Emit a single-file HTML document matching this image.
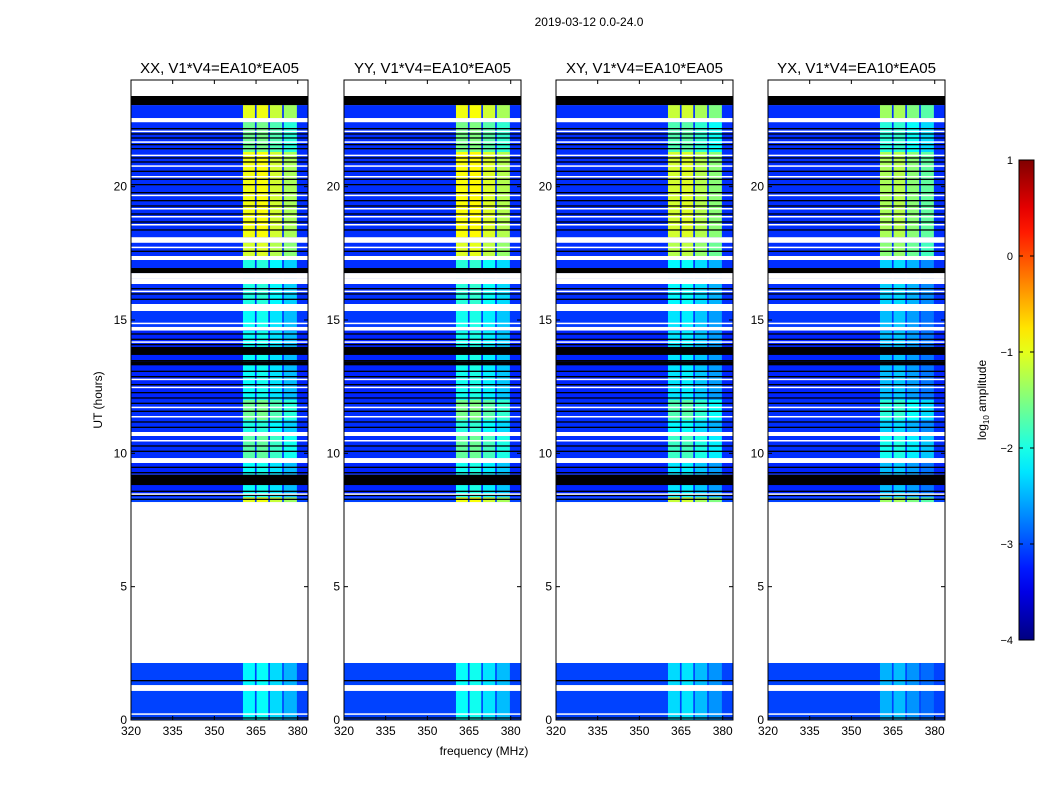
<!DOCTYPE html>
<html><head><meta charset="utf-8"><style>
body{margin:0;background:#fff;width:1050px;height:800px;overflow:hidden;font-family:"Liberation Sans",sans-serif}
svg text{font-family:"Liberation Sans",sans-serif}
</style></head><body>
<svg id="fig" width="1050" height="800" xmlns="http://www.w3.org/2000/svg">
<text x="589" y="26" font-size="12" text-anchor="middle">2019-03-12 0.0-24.0</text>
<text x="484" y="755" font-size="12" text-anchor="middle">frequency (MHz)</text>
<text transform="translate(102,400) rotate(-90)" font-size="12" text-anchor="middle">UT (hours)</text>
<g id="panels"></g>
<g id="cbar"></g>
</svg>
<script>
// ---- data ----
const panelTitles = ["XX, V1*V4=EA10*EA05","YY, V1*V4=EA10*EA05","XY, V1*V4=EA10*EA05","YX, V1*V4=EA10*EA05"];
const panelLeft = [131,344,556,768];
const panelGain = [0.0, 0.05, -0.15, -0.35];
const xTicks = [320,335,350,365,380];
const yTicks = [0,5,10,15,20];
const cbarTicks = [-4,-3,-2,-1,0,1];
// data bands: [t0, t1, highBandLog, lowBandLog]
const dataBands = [
 [22.57,23.06,-1.0,-3.15],[21.3,22.42,-1.6,-3.15],[18.1,21.3,-0.95,-3.15],
 [17.4,17.9,-1.1,-3.15],[16.76,17.25,-2.0,-3.15],[15.6,16.54,-2.0,-3.15],
 [14.62,15.34,-2.1,-3.1],[12.0,14.6,-2.1,-3.2],[11.25,12.0,-1.6,-3.15],
 [10.8,11.25,-2.0,-3.15],[9.82,10.65,-1.7,-3.15],[8.35,9.64,-2.1,-3.2],
 [8.17,8.35,-1.0,-3.05],[0,2.14,-2.15,-3.05]
];
const subBands = [[360.3,364.6],[365.2,369.4],[370,374.4],[375,379.7]];
const subOffset = [0.0, 0.05, -0.15, -0.35];
const blackBands = [[23.06,23.4],[16.76,16.95],[13.69,13.99],[8.81,9.0],[8.9,9.2],[13.3,13.45]];
const whiteBands = [[23.4,24],[22.42,22.57],[17.9,18.1],[17.25,17.4],[16.35,16.54],[15.34,15.56],[14.62,14.74],[10.65,10.8],[9.64,9.82],[2.14,8.17],[1.09,1.31]];
const blackLines = [22.2,22.0,21.85,21.6,21.45,21.1,20.95,20.6,20.3,20.1,19.8,19.5,19.3,19.0,18.7,18.4,17.6,16.2,16.0,15.8,14.5,14.3,14.1,13.5,13.1,12.9,12.6,12.3,12.1,11.9,11.6,11.2,11.0,10.3,10.1,9.5,9.3,8.6,8.45,8.3,1.5,0.1];
const whiteLines = [22.1,21.7,21.2,20.8,20.4,19.7,19.2,18.9,18.6,17.75,16.1,14.9,14.2,13.8,13.4,12.8,12.5,11.75,11.4,10.5,9.2,8.9,8.5,0.25];

// ---- scales ----
const plotTop=80,plotBot=720,W=177;
const yS=t=>plotBot-(t/24)*(plotBot-plotTop);
const xS=(f,x0)=>x0+(f-320)*(W/63.7);
function jet(v){v=Math.max(0,Math.min(1,v));
 const c=x=>Math.round(255*Math.max(0,Math.min(1,1.5-Math.abs(4*v-x))));
 return `rgb(${c(3)},${c(2)},${c(1)})`;}
const col=l=>jet((l+4)/5);
const NS="http://www.w3.org/2000/svg";
function mk(tag,attrs,parent){const e=document.createElementNS(NS,tag);for(const k in attrs)e.setAttribute(k,attrs[k]);parent.appendChild(e);return e;}

const panels=document.getElementById('panels');
panelTitles.forEach((title,p)=>{
 const x0=panelLeft[p];
 const g=mk('g',{},panels);
 
 
 dataBands.forEach(b=>{
  const y1=yS(b[1]),y0=yS(b[0]);
  const r=mk('rect',{x:x0,y:y1,width:W,height:y0-y1,fill:col(b[3])},g);
  
  
  subBands.forEach((s,i)=>{
   const rr=mk('rect',{x:xS(s[0],x0),y:y1,width:xS(s[1],x0)-xS(s[0],x0),height:y0-y1,fill:col(b[2]+panelGain[p]+subOffset[i])},g);
   
   
  });
 });
 blackLines.forEach(t=>{const r=mk('rect',{x:x0,y:yS(t),width:W,height:1.3,fill:'#000'},g);
  
  });
 whiteLines.forEach(t=>{const r=mk('rect',{x:x0,y:yS(t),width:W,height:1.5,fill:'#fff'},g);
  
  });
 blackBands.forEach(b=>{const r=mk('rect',{x:x0,y:yS(b[1]),width:W,height:yS(b[0])-yS(b[1]),fill:'#000'},g);
  
  });
 whiteBands.forEach(b=>{const r=mk('rect',{x:x0,y:yS(b[1]),width:W,height:yS(b[0])-yS(b[1]),fill:'#fff'},g);
  
  });
 const fr=mk('rect',{x:x0,y:plotTop,width:W,height:plotBot-plotTop,fill:'none',stroke:'#000','stroke-width':1},g);
 
 
 const tt=mk('text',{x:x0+W/2,y:73,'font-size':15,'text-anchor':'middle'},g);tt.textContent=title;
 
 
 xTicks.forEach(f=>{const x=xS(f,x0);
  mk('line',{x1:x,x2:x,y1:plotBot,y2:plotBot-4,stroke:'#000'},g);mk('line',{x1:x,x2:x,y1:plotTop,y2:plotTop+4,stroke:'#000'},g);
  const t=mk('text',{x:x,y:plotBot+15,'font-size':12,'text-anchor':'middle'},g);t.textContent=f;
  
  });
 yTicks.forEach(v=>{const y=yS(v);
  mk('line',{x1:x0,x2:x0+4,y1:y,y2:y,stroke:'#000'},g);mk('line',{x1:x0+W,x2:x0+W-4,y1:y,y2:y,stroke:'#000'},g);
  const t=mk('text',{x:x0-4,y:y+4,'font-size':12,'text-anchor':'end'},g);t.textContent=v;
  
  });
});

// colorbar
const cb=document.getElementById('cbar');


const cTop=160,cBot=640,cx=1019,cw=15;
const defs=mk('defs',{},cb);const lg=mk('linearGradient',{id:'jg',x1:0,y1:1,x2:0,y2:0},defs);
for(let i=0;i<=20;i++)mk('stop',{offset:i/20,'stop-color':jet(i/20)},lg);
mk('rect',{x:cx,y:cTop,width:cw,height:cBot-cTop,fill:'url(#jg)',stroke:'#000','stroke-width':1},cb);
const cyS=v=>cBot-(v+4)/5*(cBot-cTop);
cbarTicks.forEach(v=>{const y=cyS(v);
 mk('line',{x1:cx,x2:cx+4,y1:y,y2:y,stroke:'#000'},cb);mk('line',{x1:cx+cw,x2:cx+cw-4,y1:y,y2:y,stroke:'#000'},cb);
 const t=mk('text',{x:1013,y:y+4,'font-size':11,'text-anchor':'end'},cb);t.textContent=v<0?'\u2212'+(-v):v;
 
 });
const cl=mk('text',{transform:'translate(986,400) rotate(-90)','font-size':12,'text-anchor':'middle'},cb);
cl.innerHTML='log<tspan font-size="8" dy="3">10</tspan><tspan dy="-3"> amplitude</tspan>';


</script>
</body></html>
